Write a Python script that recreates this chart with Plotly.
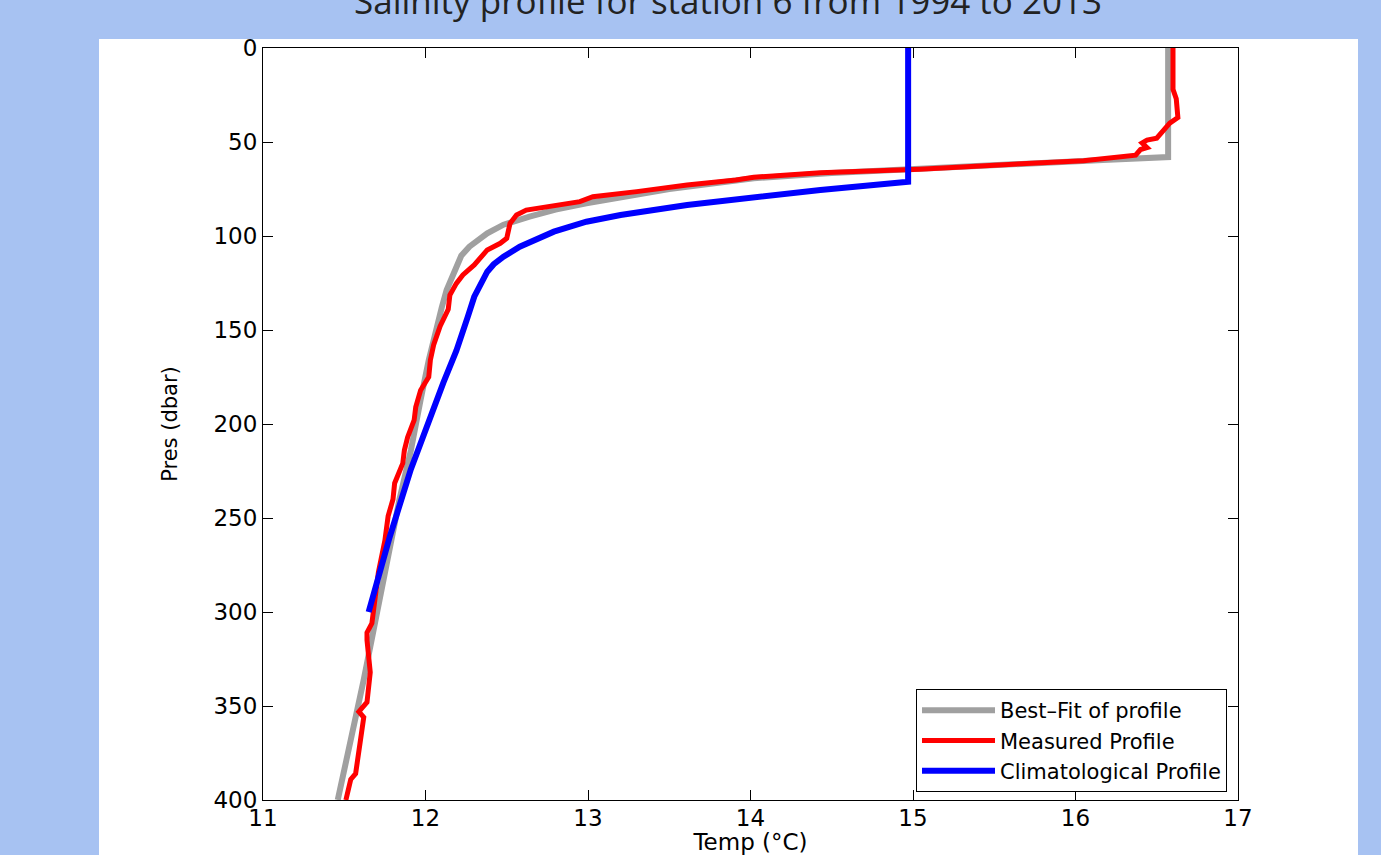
import plotly.graph_objects as go

# ---- data ----
fit_temp = [16.57, 16.57, 16.17, 15.55, 15.04, 14.50, 14.02, 13.50, 12.99, 12.80,
            12.64, 12.48, 12.38, 12.32, 12.27, 12.22, 12.19, 12.13, 12.10, 12.08,
            12.05, 12.02, 11.97, 11.91, 11.84, 11.78, 11.68, 11.62, 11.54, 11.46]
fit_pres = [0, 58, 59.6, 62, 64, 66.5, 69.3, 75, 82.6, 86,
            89.7, 94, 98.6, 102, 105.7, 110.5, 116.3, 128.7, 138, 145,
            155, 166, 187, 214, 240, 267, 310, 336, 368, 400]

meas_temp = [16.60, 16.60, 16.62, 16.63, 16.58, 16.53, 16.50, 16.44, 16.41, 16.44,
             16.40, 16.37, 16.17, 16.05, 15.53, 15.04, 14.43, 14.02, 13.91, 13.61,
             13.30, 13.03, 12.95, 12.79, 12.62, 12.56, 12.52, 12.50, 12.46, 12.38,
             12.34, 12.30, 12.23, 12.19, 12.15, 12.14, 12.09, 12.05, 12.03, 12.02,
             11.97, 11.94, 11.93, 11.89, 11.87, 11.86, 11.81, 11.80, 11.77, 11.75,
             11.71, 11.69, 11.67, 11.64, 11.64, 11.66, 11.64, 11.59, 11.62, 11.60,
             11.57, 11.54, 11.51]
meas_pres = [0, 22, 27, 37, 40, 45, 48, 49, 50.5, 53,
             54, 57, 59, 60, 62.2, 64.5, 66.3, 68.8, 70.2, 72.9,
             76.4, 79.1, 81.7, 84, 86.2, 88.8, 93.3, 101.2, 103.9, 107.4,
             111, 115.4, 120.7, 125.2, 131.4, 139, 148, 158, 166, 175,
             182, 191, 198, 207, 214, 221, 231.5, 240, 249, 262,
             279, 294, 306, 311, 315, 332, 348, 353, 356, 368,
             386, 389, 400]

clim_temp = [14.97, 14.97, 14.43, 14.02, 13.61, 13.20, 12.99, 12.79, 12.58, 12.48,
             12.42, 12.38, 12.34, 12.30, 12.26, 12.19, 12.11, 12.01, 11.91, 11.78, 11.65]
clim_pres = [0, 71.1, 75.5, 79.1, 83.5, 88.8, 92.4, 97.7, 105.7, 111,
             115, 119, 125, 132.3, 143, 161, 178, 201.5, 224, 260, 300]

series_names = ["Best\u2013Fit of profile", "Measured Profile", "Climatological Profile"]
x_ticks = [11, 12, 13, 14, 15, 16, 17]
y_ticks = [0, 50, 100, 150, 200, 250, 300, 350, 400]
title_text = "Salinity profile for station 6 from 1994 to 2013"

# ---- figure ----
W, H = 1381, 855
L, R, T, B = 263, 1238, 48, 800   # plot area pixel box
pw, ph = R - L, B - T

def px_x(p):
    return (p - L) / pw

def px_y(p):
    return (B - p) / ph

fig = go.Figure()
fig.add_trace(go.Scatter(x=fit_temp, y=fit_pres, mode="lines", name=series_names[0],
                         line=dict(color="#a0a0a0", width=6)))
fig.add_trace(go.Scatter(x=meas_temp, y=meas_pres, mode="lines", name=series_names[1],
                         line=dict(color="#ff0000", width=5)))
fig.add_trace(go.Scatter(x=clim_temp, y=clim_pres, mode="lines", name=series_names[2],
                         line=dict(color="#0000ff", width=6)))

tick_font = dict(family="DejaVu Sans", size=23, color="#000000")

fig.update_layout(
    width=W, height=H,
    margin=dict(l=L, r=W - R, t=T, b=H - B, autoexpand=False),
    paper_bgcolor="#a7c2f2",
    plot_bgcolor="#ffffff",
    showlegend=True,
    legend=dict(
        x=px_x(1227), y=px_y(792), xanchor="right", yanchor="bottom",
        bgcolor="#ffffff", bordercolor="#000000", borderwidth=1,
        font=dict(family="DejaVu Sans", size=21, color="#000000"),
        itemwidth=73, tracegroupgap=0,
    ),
    xaxis=dict(
        range=[11, 17], tickvals=x_ticks, ticktext=[str(v) for v in x_ticks],
        ticks="inside", ticklen=10, tickwidth=1, tickcolor="#000000",
        showline=True, linecolor="#000000", linewidth=1, mirror="ticks",
        showgrid=False, zeroline=False, tickfont=tick_font, ticklabelstandoff=-3,
        title=dict(text="Temp (\u00b0C)", font=dict(family="DejaVu Sans", size=23, color="#000000"),
                   standoff=11),
        automargin=False,
    ),
    yaxis=dict(
        range=[400, 0], tickvals=y_ticks, ticktext=[str(v) for v in y_ticks],
        ticks="inside", ticklen=10, tickwidth=1, tickcolor="#000000",
        showline=True, linecolor="#000000", linewidth=1, mirror="ticks",
        showgrid=False, zeroline=False, tickfont=tick_font,
        title=dict(text="Pres (dbar)", font=dict(family="DejaVu Sans", size=21, color="#000000"),
                   standoff=30),
        automargin=False,
    ),
    shapes=[dict(type="rect", xref="paper", yref="paper",
                 x0=px_x(99), x1=px_x(1358), y0=px_y(855), y1=px_y(39),
                 fillcolor="#ffffff", line=dict(width=0), layer="below")],
    annotations=[dict(text=title_text, xref="paper", yref="paper",
                      x=px_x(728), y=px_y(0), xanchor="center", yanchor="middle",
                      showarrow=False,
                      font=dict(family="Open Sans", size=35, color="#222222"))],
)

fig.write_html("out.html",
               config={"displayModeBar": False},
               post_script="document.body.style.margin='0';document.body.style.overflow='hidden';")
